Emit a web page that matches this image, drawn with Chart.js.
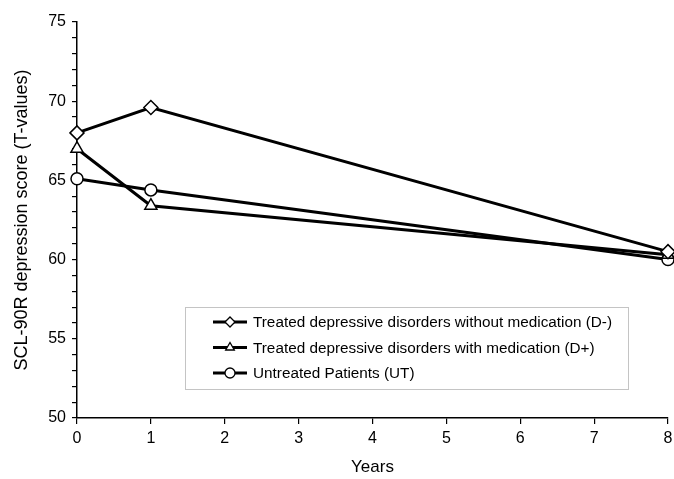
<!DOCTYPE html>
<html><head><meta charset="utf-8">
<script src="https://cdn.jsdelivr.net/npm/chart.js@4/dist/chart.umd.min.js"></script>
<style>html,body{margin:0;padding:0;background:#fff}#wrap{width:674px;height:479px}</style>
</head><body><div id="wrap"><canvas id="c" width="674" height="479"></canvas></div>
<script>
const years = [0, 1, 8];
const seriesNames = [
  "Treated depressive disorders without medication (D-)",
  "Treated depressive disorders with medication (D+)",
  "Untreated Patients (UT)"
];
const dMinus = [68.0, 69.6, 60.5];
const dPlus = [67.0, 63.4, 60.3];
const untreated = [65.1, 64.4, 60.0];
const yTickLabels = [50, 55, 60, 65, 70, 75];
const xTickLabels = [0, 1, 2, 3, 4, 5, 6, 7, 8];
const pointStyles = ["rectRot", "triangle", "circle"];

const FONT = "'Liberation Sans', Arial, sans-serif";
function mk(label, vals, style, radius) {
  return {
    label, data: years.map((x, i) => ({x, y: vals[i]})),
    borderColor: "#000", borderWidth: 3, backgroundColor: "#fff",
    pointStyle: style, pointRadius: radius, pointBorderWidth: 1.5,
    pointBackgroundColor: "#fff", pointBorderColor: "#000",
    tension: 0, clip: false
  };
}
const datasets = [
  mk(seriesNames[0], dMinus, pointStyles[0], 7),
  mk(seriesNames[1], dPlus, pointStyles[1], 7),
  mk(seriesNames[2], untreated, pointStyles[2], 6)
];

const fixRight = {
  id: "fixRight",
  afterLayout(chart) {
    try {
      const xs = chart.scales.x, target = chart.width - 6;
      if (xs && typeof xs.configure === "function" && Math.abs(xs.right - target) > 0.5) {
        xs.right = target; xs.width = xs.right - xs.left;
        xs.configure();
        chart.chartArea.right = target;
        chart.chartArea.width = target - chart.chartArea.left;
      }
    } catch (e) {}
  }
};

const legendBox = {
  id: "legendBox",
  afterDraw(chart) {
    const ctx = chart.ctx, a = chart.chartArea;
    const bx = 185, by = a.top + 285, bw = 443, bh = 82;
    ctx.save();
    ctx.fillStyle = "#fff";
    ctx.fillRect(bx, by, bw, bh);
    ctx.strokeStyle = "#888"; ctx.lineWidth = 1; ctx.setLineDash([1, 1]);
    ctx.strokeRect(bx + 0.5, by + 0.5, bw, bh);
    ctx.setLineDash([]);
    ctx.font = "15.3px " + FONT; ctx.fillStyle = "#000"; ctx.textBaseline = "middle";
    chart.data.datasets.forEach((ds, i) => {
      const cy = by + 15 + i * 25.5;
      ctx.strokeStyle = "#000"; ctx.lineWidth = 3;
      ctx.beginPath(); ctx.moveTo(bx + 28, cy); ctx.lineTo(bx + 62, cy); ctx.stroke();
      ctx.fillStyle = "#fff"; ctx.lineWidth = 1.3;
      Chart.helpers.drawPoint(ctx, {pointStyle: ds.pointStyle, radius: 5, borderWidth: 1.3, rotation: 0}, bx + 45, cy);
      ctx.fillStyle = "#000";
      ctx.fillText(ds.label, bx + 68, cy + 1);
    });
    ctx.restore();
  }
};

new Chart(document.getElementById("c"), {
  type: "line",
  data: { datasets },
  plugins: [fixRight, legendBox],
  options: {
    responsive: false, animation: false, devicePixelRatio: 1,
    layout: { padding: { top: 22, right: 0, bottom: 0, left: 0 } },
    plugins: { legend: { display: false }, tooltip: { enabled: false } },
    scales: {
      x: {
        type: "linear", min: 0, max: 8,
        afterFit(s) { s.height = 61; },
        afterBuildTicks(s) { s.ticks = xTickLabels.map(v => ({value: v})); },
        ticks: { color: "#000", font: { family: FONT, size: 16 }, padding: 5, maxRotation: 0 },
        grid: { drawOnChartArea: false, color: "#000", tickLength: 6, lineWidth: 1.2 },
        border: { display: true, color: "#000", width: 1.5 },
        title: { display: true, text: "Years", color: "#000", font: { family: FONT, size: 17 }, padding: { top: 0, bottom: 1 } }
      },
      y: {
        type: "linear", min: 50, max: 75,
        afterFit(s) { s.width = 77; },
        ticks: { stepSize: 1, autoSkip: false, color: "#000", font: { family: FONT, size: 16 }, padding: 6,
          callback: v => yTickLabels.includes(v) ? String(v) : "" },
        grid: { drawOnChartArea: false, color: "#000", tickLength: 5, lineWidth: 1.2 },
        border: { display: true, color: "#000", width: 1.5 },
        title: { display: true, text: "SCL-90R depression score (T-values)", color: "#000", font: { family: FONT, size: 18 }, padding: { top: 11, bottom: 0 } }
      }
    }
  }
});
</script></body></html>
